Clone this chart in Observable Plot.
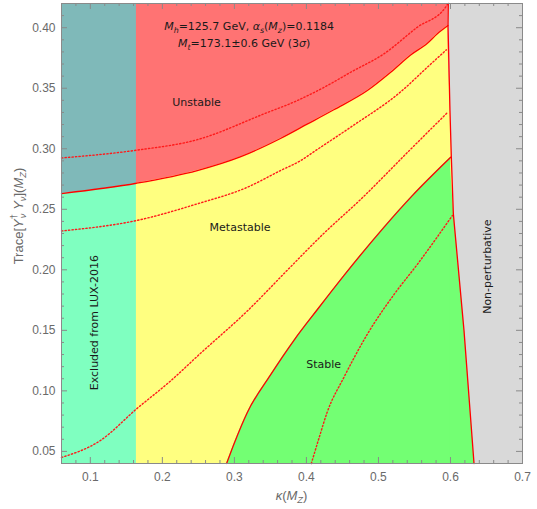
<!DOCTYPE html>
<html><head><meta charset="utf-8">
<script src="https://cdn.jsdelivr.net/npm/d3@7"></script>
<script src="https://cdn.jsdelivr.net/npm/@observablehq/plot@0.6"></script>
<style>body{margin:0;background:#fff}</style>
</head><body><div id="chart"></div>
<script>
// ---- data ----
const xDomain = [0.06, 0.7];
const yDomain = [0.04, 0.42];
const luxLimit = 0.164;
const xMajorTicks = [0.1, 0.2, 0.3, 0.4, 0.5, 0.6, 0.7];
const yMajorTicks = [0.05, 0.10, 0.15, 0.20, 0.25, 0.30, 0.35, 0.40];
const xMinorTicks = [0.06,0.08,0.12,0.14,0.16,0.18,0.22,0.24,0.26,0.28,0.32,0.34,0.36,0.38,0.42,0.44,0.46,0.48,0.52,0.54,0.56,0.58,0.62,0.64,0.66,0.68];
const yMinorTicks = [0.04,0.06,0.07,0.08,0.09,0.11,0.12,0.13,0.14,0.16,0.17,0.18,0.19,0.21,0.22,0.23,0.24,0.26,0.27,0.28,0.29,0.31,0.32,0.33,0.34,0.36,0.37,0.38,0.39,0.41,0.42];

// unstable / metastable boundary (solid)
const unstableEdge = [[0.06,0.263],[0.164,0.2715],[0.2485,0.282],[0.309,0.2935],[0.364,0.3085],[0.401,0.3203],[0.438,0.3322],[0.4846,0.3481],[0.517,0.3632],[0.5447,0.3775],[0.568,0.3872],[0.5818,0.395],[0.5966,0.4018]];
// metastable / stable boundary (solid)
const stableEdge = [[0.2892,0.04],[0.30,0.057],[0.318,0.0822],[0.35,0.113],[0.383,0.142],[0.415,0.167],[0.452,0.1952],[0.5076,0.2351],[0.5471,0.2613],[0.6003,0.293]];
// non-perturbative boundary (solid)
const pertEdge = [[0.597,0.42],[0.5966,0.4018],[0.5993,0.3316],[0.6012,0.293],[0.604,0.2462],[0.6188,0.1498],[0.6327,0.04]];
// dotted (3 sigma) curves
const dottedA = [[0.06,0.2924],[0.164,0.2988],[0.2485,0.3075],[0.341,0.3288],[0.3873,0.3398],[0.429,0.3522],[0.4614,0.3632],[0.5076,0.3784],[0.554,0.4004],[0.5933,0.417],[0.5965,0.42]];
const dottedB = [[0.06,0.2321],[0.164,0.2407],[0.2485,0.2545],[0.318,0.2682],[0.364,0.282],[0.392,0.2902],[0.4128,0.2985],[0.4614,0.3178],[0.5308,0.347],[0.568,0.3674],[0.5943,0.3817]];
const dottedC = [[0.06,0.045],[0.114,0.059],[0.164,0.085],[0.211,0.108],[0.253,0.131],[0.318,0.166],[0.374,0.200],[0.424,0.230],[0.475,0.258],[0.542,0.298],[0.596,0.330]];
const dottedD = [[0.4068,0.04],[0.418,0.062],[0.429,0.0826],[0.4521,0.1112],[0.4846,0.1468],[0.5215,0.1795],[0.554,0.2045],[0.6026,0.2448]];

const regionLabels = [
  {text: "Unstable", k: 0.2475, t: 0.3384, rot: 0},
  {text: "Metastable", k: 0.3079, t: 0.2351, rot: 0},
  {text: "Stable", k: 0.4239, t: 0.1217, rot: 0},
  {text: "Excluded from LUX-2016", k: 0.1058, t: 0.1564, rot: -90},
  {text: "Non-perturbative", k: 0.6513, t: 0.2026, rot: -90}
];

// ---- fill shapes built from the boundaries ----
const topY = yDomain[1], botY = yDomain[0], leftX = xDomain[0];
const uLast = unstableEdge[unstableEdge.length - 1];
const sLast = stableEdge[stableEdge.length - 1];
const seam = 0.002; // overlap so no hairline shows between adjoining fills
const yellowSliver = [[uLast[0] - seam, uLast[1]], ...pertEdge.filter(p => p[1] < uLast[1]), [uLast[0] - seam, botY]];
const greenSliver = [[sLast[0] - seam, sLast[1]], ...pertEdge.filter(p => p[1] < sLast[1]), [sLast[0] - seam, botY]];

const W = 537, H = 509, mL = 61, mR = 15, mT = 3, mB = 46;
const innerW = W - mL - mR, innerH = H - mT - mB;
const tickCol = "#8a8a8a";
const px = d => d[0], py = d => d[1];
const solid = {x: px, y: py, stroke: "#ff0000", strokeWidth: 1.3, curve: "monotone-x"};
const dotted = {x: px, y: py, stroke: "#ff1a1a", strokeWidth: 1.4, strokeDasharray: "1.3,2.2", curve: "monotone-x"};
const RED = "#ff7373", YEL = "#ffff80", GRN = "#73ff73";

const plot = Plot.plot({
  width: W, height: H,
  marginLeft: mL, marginRight: mR, marginTop: mT, marginBottom: mB,
  x: {domain: xDomain, label: null},
  y: {domain: yDomain, label: null},
  style: {fontFamily: "'Liberation Sans', Arial, sans-serif", fontSize: "12px", background: "#fff"},
  marks: [
    Plot.frame({fill: "#d9d9d9", stroke: null}),
    // red: everything left of the non-perturbative edge
    Plot.areaX(pertEdge, {y: py, x1: () => leftX, x2: px, fill: RED}),
    // yellow: below the unstable edge
    Plot.areaY(unstableEdge, {x: px, y1: () => botY, y2: py, fill: YEL, curve: "monotone-x"}),
    Plot.line(yellowSliver, {x: px, y: py, fill: YEL, stroke: "none"}),
    // green: below the stable edge
    Plot.areaY(stableEdge, {x: px, y1: () => botY, y2: py, fill: GRN, curve: "monotone-x"}),
    Plot.line(greenSliver, {x: px, y: py, fill: GRN, stroke: "none"}),
    // LUX-2016 exclusion overlay
    Plot.rect([luxLimit], {x1: () => leftX, x2: d => d, y1: () => botY, y2: () => topY, fill: "#00ffff", fillOpacity: 0.5}),
    Plot.line(dottedA, dotted),
    Plot.line(dottedB, dotted),
    Plot.line(dottedC, dotted),
    Plot.line(dottedD, dotted),
    Plot.line(unstableEdge, solid),
    Plot.line(stableEdge, solid),
    Plot.line(pertEdge, {x: px, y: py, stroke: "#ff0000", strokeWidth: 1.3}),
    Plot.text(regionLabels, {x: "k", y: "t", text: "text", rotate: "rot", fontFamily: "'DejaVu Sans', sans-serif", fontSize: 11, fill: "#1a1a1a"}),
    // inward ticks on all four sides
    Plot.ruleX(xMajorTicks, {stroke: tickCol, insetTop: innerH - 6}),
    Plot.ruleX(xMajorTicks, {stroke: tickCol, insetBottom: innerH - 6}),
    Plot.ruleX(xMinorTicks, {stroke: tickCol, insetTop: innerH - 3}),
    Plot.ruleX(xMinorTicks, {stroke: tickCol, insetBottom: innerH - 3}),
    Plot.ruleY(yMajorTicks, {stroke: tickCol, insetRight: innerW - 6}),
    Plot.ruleY(yMajorTicks, {stroke: tickCol, insetLeft: innerW - 6}),
    Plot.ruleY(yMinorTicks, {stroke: tickCol, insetRight: innerW - 3}),
    Plot.ruleY(yMinorTicks, {stroke: tickCol, insetLeft: innerW - 3}),
    Plot.frame({stroke: "#8a8a8a"}),
    Plot.axisX({ticks: xMajorTicks, tickSize: 0, tickPadding: 9, color: "#6a6a6a", tickFormat: d => d.toFixed(1), label: null}),
    Plot.axisY({ticks: yMajorTicks, tickSize: 0, tickPadding: 6, color: "#6a6a6a", tickFormat: d => d.toFixed(2), label: null})
  ]
});
document.getElementById("chart").appendChild(plot);

// ---- rich text (sub/superscripts) ----
const svg = d3.select(plot);
function rich(x, y, parts, {size, fill, family, rotate = 0, anchor = "middle"}) {
  const t = svg.append("text")
    .attr("transform", `translate(${x},${y}) rotate(${rotate})`)
    .attr("text-anchor", anchor).attr("font-size", size).attr("fill", fill)
    .attr("font-family", family).attr("y", size * 0.35);
  let shift = 0;
  for (const p of parts) {
    const ts = t.append("tspan").text(p.t);
    const target = p.sub ? size * 0.3 : p.sup ? -size * 0.4 : 0;
    ts.attr("dy", target - shift);
    shift = target;
    if (p.dx) ts.attr("dx", p.dx);
    if (p.sub || p.sup) ts.attr("font-size", size * 0.72);
    if (p.i) ts.attr("font-style", "italic");
  }
}
const sx = plot.scale("x"), sy = plot.scale("y");
const annFont = "'DejaVu Sans', sans-serif";
rich(sx.apply(0.3211), sy.apply(0.401), [
  {t: "M", i: 1}, {t: "h", i: 1, sub: 1}, {t: "=125.7 GeV, "}, {t: "α", i: 1}, {t: "s", i: 1, sub: 1},
  {t: "("}, {t: "M", i: 1}, {t: "z", i: 1, sub: 1}, {t: ")=0.1184"}
], {size: 11, fill: "#1a1a1a", family: annFont});
rich(sx.apply(0.3142), sy.apply(0.387), [
  {t: "M", i: 1}, {t: "t", i: 1, sub: 1}, {t: "=173.1±0.6 GeV (3"}, {t: "σ", i: 1}, {t: ")"}
], {size: 11, fill: "#1a1a1a", family: annFont});
const axFont = "'Liberation Sans', Arial, sans-serif";
rich(mL + innerW / 2, 495, [
  {t: "κ", i: 1}, {t: "("}, {t: "M", i: 1}, {t: "Z", i: 1, sub: 1}, {t: ")"}
], {size: 13, fill: "#6a6a6a", family: axFont});
rich(18, 216, [
  {t: "Trace["}, {t: "Y", i: 1}, {t: "†", sup: 1}, {t: "ν", i: 1, sub: 1, dx: -4}, {t: " Y", i: 1}, {t: "ν", i: 1, sub: 1},
  {t: "]("}, {t: "M", i: 1}, {t: "Z", i: 1, sub: 1}, {t: ")"}
], {size: 13, fill: "#6a6a6a", family: axFont, rotate: -90});
</script>
</body></html>
